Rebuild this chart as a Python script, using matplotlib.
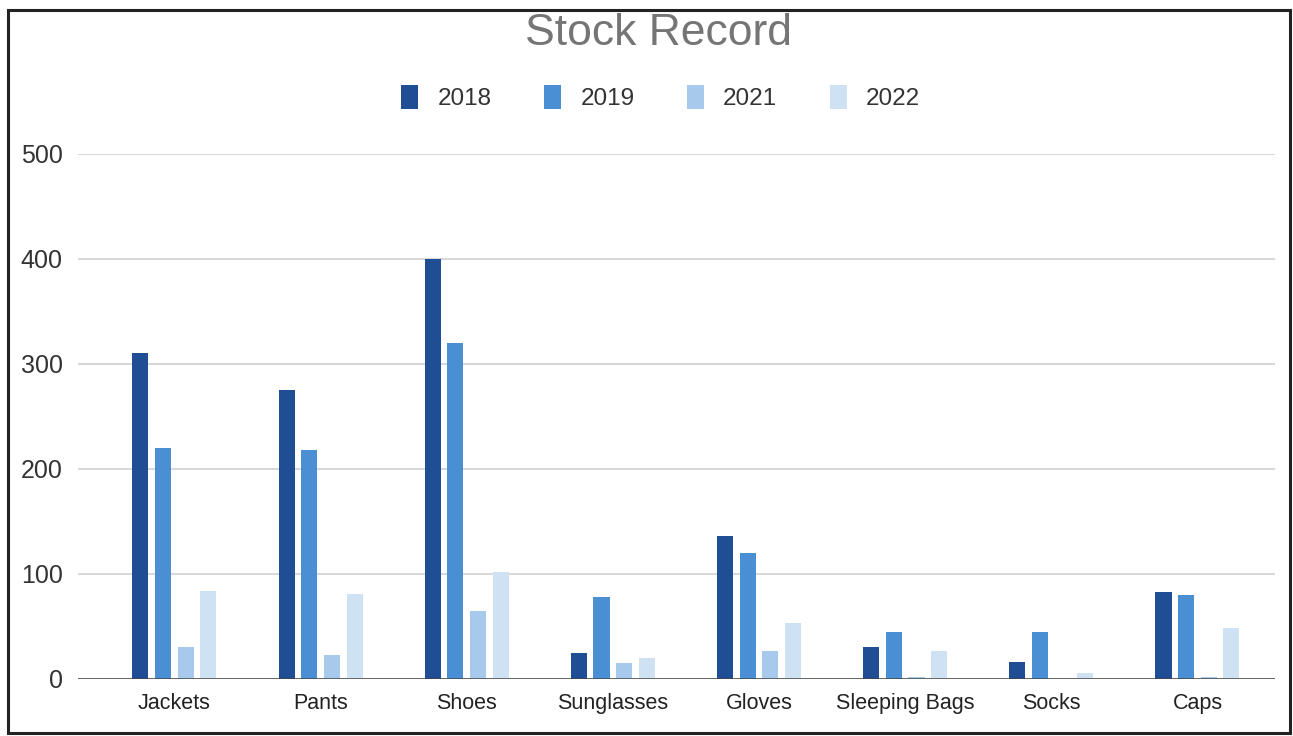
import matplotlib.pyplot as plt
import numpy as np
from matplotlib.patches import Rectangle

plt.rcParams['font.family'] = ['Liberation Sans', 'DejaVu Sans']

categories = ['Jackets', 'Pants', 'Shoes', 'Sunglasses', 'Gloves', 'Sleeping Bags', 'Socks', 'Caps']
years = ['2018', '2019', '2021', '2022']
v2018 = [310, 275, 400, 25, 136, 30, 16, 83]
v2019 = [220, 218, 320, 78, 120, 45, 45, 80]
v2021 = [30, 23, 65, 15, 27, 2, 0, 2]
v2022 = [84, 81, 102, 20, 53, 27, 6, 49]
series = [v2018, v2019, v2021, v2022]
colors = ['#1f4e94', '#4a8fd4', '#a6c9ec', '#cfe2f3']

fig = plt.figure(figsize=(12.93, 7.36), dpi=100)
ax = fig.add_axes([0.0603, 0.0775, 0.9257, 0.7133])

x = np.arange(len(categories))
step = 0.155
width = 0.11
for i, (vals, yr, c) in enumerate(zip(series, years, colors)):
    ax.bar(x + (i - 1.5) * step, vals, width, color=c, label=yr, zorder=3)

ax.set_xlim(-0.66, 7.53)
ax.set_ylim(0, 500)
ax.set_yticks([0, 100, 200, 300, 400, 500])
ax.grid(axis='y', color='#d4d4d4', linewidth=1.3, zorder=0)
ax.axhline(0, color='#444444', linewidth=1.8, zorder=4)
ax.set_xticks(x)
ax.set_xticklabels(categories, fontsize=15.5, color='#222222')
ax.tick_params(axis='x', length=0, pad=10)
ax.tick_params(axis='y', length=0, pad=11, labelsize=18, labelcolor='#333333')
for s in ax.spines.values():
    s.set_visible(False)

fig.text(0.509, 0.955, 'Stock Record', ha='center', va='center', fontsize=32, color='#757575')
fig.legend(loc='center', bbox_to_anchor=(0.511, 0.867), ncol=4, frameon=False,
           fontsize=17.5, handlelength=0.7, handleheight=1.12, columnspacing=2.15,
           handletextpad=0.8, labelcolor='#333333')

fig.patches.append(Rectangle((8 / 1293, 3 / 736), 1282 / 1293, 723 / 736,
                             transform=fig.transFigure, fill=False,
                             edgecolor='#222222', linewidth=2.2))

fig.savefig('out.png', dpi=100)
